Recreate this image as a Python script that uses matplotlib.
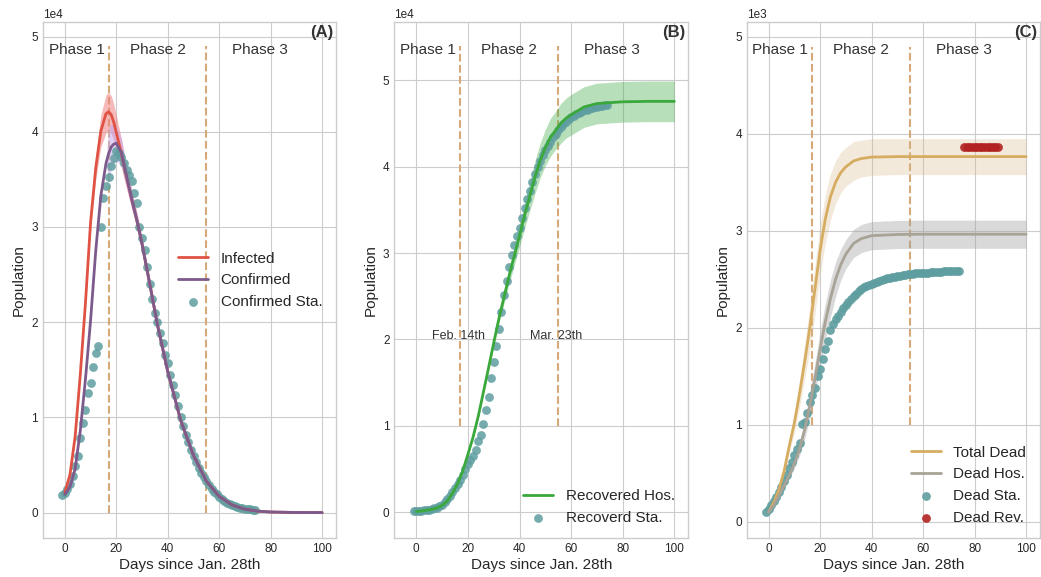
import matplotlib
matplotlib.use('Agg')
import matplotlib.pyplot as plt
import numpy as np

plt.style.use('seaborn-v0_8-whitegrid')
plt.rcParams['font.family'] = ['Liberation Sans', 'DejaVu Sans']

# ---- panel A: infected / confirmed (units of 1e4) ----
a_days = [0, 2, 4, 6, 8, 10, 12, 14, 16, 17, 18, 19, 20, 22, 24, 26, 28, 30,
          33, 36, 40, 45, 50, 55, 60, 65, 70, 75, 80, 90, 100]
a_infected = [0.21, 0.40, 0.80, 1.45, 2.20, 3.05, 3.62, 4.01, 4.19, 4.21, 4.18,
              4.10, 3.99, 3.77, 3.52, 3.29, 3.07, 2.82, 2.40, 1.97, 1.48, 0.97,
              0.60, 0.33, 0.17, 0.08, 0.035, 0.015, 0.006, 0.001, 0.0]
a_infected_err = [0.0, 0.01, 0.02, 0.03, 0.05, 0.07, 0.12, 0.17, 0.20, 0.20, 0.20,
                  0.19, 0.18, 0.15, 0.12, 0.10, 0.08, 0.07, 0.06, 0.05, 0.04, 0.03,
                  0.02, 0.015, 0.01, 0.005, 0.003, 0.0, 0.0, 0.0, 0.0]
a_confirmed = [0.19, 0.27, 0.46, 0.86, 1.40, 2.02, 2.75, 3.33, 3.67, 3.77, 3.84,
               3.87, 3.88, 3.78, 3.53, 3.29, 3.07, 2.82, 2.40, 1.97, 1.48, 0.97,
               0.60, 0.33, 0.17, 0.08, 0.035, 0.015, 0.006, 0.001, 0.0]
a_confirmed_err = [0.0, 0.0, 0.0, 0.0, 0.0, 0.0, 0.0, 0.0, 0.0, 0.28, 0.24,
                   0.20, 0.18, 0.15, 0.12, 0.10, 0.08, 0.07, 0.06, 0.05, 0.04, 0.03,
                   0.02, 0.015, 0.01, 0.005, 0.003, 0.0, 0.0, 0.0, 0.0]
# statistics, one value per day starting at day -1
a_conf_sta = [0.18, 0.21, 0.25, 0.30, 0.38, 0.49, 0.59, 0.78, 0.94, 1.08, 1.26,
              1.36, 1.53, 1.68, 1.75, 3.00, 3.30, 3.43, 3.53, 3.64, 3.72, 3.80,
              3.78, 3.74, 3.67, 3.60, 3.55, 3.48, 3.36, 3.25, 3.00, 2.88, 2.76,
              2.58, 2.40, 2.24, 2.10, 2.00, 1.89, 1.78, 1.66, 1.57, 1.45, 1.34,
              1.24, 1.12, 1.00, 0.91, 0.82, 0.74, 0.66, 0.59, 0.53, 0.47, 0.42,
              0.37, 0.33, 0.29, 0.25, 0.22, 0.19, 0.16, 0.14, 0.12, 0.10, 0.087,
              0.075, 0.065, 0.057, 0.05, 0.045, 0.04, 0.037, 0.034, 0.032, 0.03]

# ---- panel B: recovered (units of 1e4) ----
b_days = [0, 2, 4, 6, 8, 10, 12, 14, 16, 18, 20, 22, 24, 26, 28, 30, 32, 34, 36,
          38, 40, 42, 44, 46, 48, 50, 52, 54, 56, 58, 60, 65, 70, 80, 90, 100]
b_recovered = [0.01, 0.015, 0.025, 0.035, 0.05, 0.08, 0.13, 0.22, 0.33, 0.48,
               0.67, 0.87, 1.11, 1.39, 1.67, 1.96, 2.24, 2.49, 2.74, 2.97, 3.20,
               3.44, 3.66, 3.88, 4.07, 4.22, 4.34, 4.42, 4.50, 4.56, 4.60, 4.69,
               4.73, 4.75, 4.755, 4.755]
b_recovered_err = [0.005, 0.005, 0.005, 0.008, 0.01, 0.01, 0.012, 0.015, 0.018,
                   0.02, 0.022, 0.025, 0.028, 0.03, 0.035, 0.045, 0.055, 0.07,
                   0.09, 0.11, 0.13, 0.15, 0.17, 0.19, 0.20, 0.21, 0.22, 0.22,
                   0.23, 0.23, 0.235, 0.235, 0.235, 0.235, 0.235, 0.235]
b_rec_sta = [0.01, 0.012, 0.015, 0.018, 0.022, 0.026, 0.03, 0.035, 0.045, 0.055,
             0.07, 0.09, 0.12, 0.15, 0.19, 0.24, 0.28, 0.33, 0.38, 0.43, 0.50,
             0.56, 0.60, 0.65, 0.72, 0.82, 0.89, 1.02, 1.18, 1.33, 1.55, 1.74,
             1.92, 2.12, 2.32, 2.52, 2.68, 2.84, 2.98, 3.09, 3.20, 3.29, 3.40,
             3.52, 3.62, 3.72, 3.82, 3.92, 4.00, 4.07, 4.13, 4.19, 4.24, 4.29,
             4.34, 4.38, 4.42, 4.46, 4.49, 4.52, 4.55, 4.57, 4.59, 4.61, 4.62,
             4.63, 4.65, 4.66, 4.67, 4.68, 4.69, 4.69, 4.70, 4.70, 4.71, 4.71]

# ---- panel C: dead (units of 1e3) ----
c_days = [0, 2, 4, 6, 8, 10, 12, 14, 16, 17, 18, 20, 22, 24, 26, 28, 30, 33, 36,
          40, 50, 60, 100]
c_total = [0.10, 0.20, 0.33, 0.52, 0.78, 1.02, 1.32, 1.65, 2.00, 2.20, 2.40, 2.80,
           3.12, 3.35, 3.50, 3.60, 3.66, 3.72, 3.745, 3.76, 3.765, 3.765, 3.765]
c_total_err = [0.01, 0.02, 0.03, 0.05, 0.07, 0.10, 0.14, 0.18, 0.22, 0.24, 0.25,
               0.26, 0.25, 0.24, 0.22, 0.21, 0.20, 0.20, 0.19, 0.19, 0.185, 0.185,
               0.185]
c_hos = [0.10, 0.17, 0.27, 0.37, 0.48, 0.60, 0.75, 0.95, 1.20, 1.34, 1.48, 1.78,
         2.06, 2.30, 2.50, 2.65, 2.76, 2.87, 2.92, 2.95, 2.962, 2.965, 2.965]
c_hos_err = [0.01, 0.015, 0.02, 0.03, 0.04, 0.05, 0.07, 0.10, 0.13, 0.14, 0.16,
             0.18, 0.19, 0.19, 0.18, 0.16, 0.15, 0.145, 0.145, 0.145, 0.145,
             0.145, 0.145]
c_dead_sta = [0.10, 0.13, 0.17, 0.21, 0.26, 0.31, 0.36, 0.42, 0.48, 0.55, 0.62,
              0.69, 0.75, 0.81, 1.01, 1.03, 1.12, 1.23, 1.31, 1.38, 1.50, 1.58,
              1.68, 1.78, 1.86, 1.98, 2.04, 2.09, 2.12, 2.16, 2.20, 2.24, 2.27,
              2.30, 2.33, 2.35, 2.38, 2.40, 2.42, 2.43, 2.44, 2.45, 2.46, 2.47,
              2.48, 2.49, 2.50, 2.51, 2.515, 2.52, 2.525, 2.53, 2.535, 2.54,
              2.545, 2.55, 2.55, 2.555, 2.56, 2.56, 2.565, 2.565, 2.57, 2.57,
              2.575, 2.575, 2.58, 2.58, 2.58, 2.585, 2.585, 2.585, 2.59, 2.59,
              2.59, 2.59]
c_rev_days = [76, 77, 78, 79, 80, 81, 82, 83, 84, 85, 86, 87, 88, 89]
c_rev_value = 3.869

phase_x = [4.5, 36, 76]
phase_names = ['Phase 1', 'Phase 2', 'Phase 3']
split_days = [17, 55]

TEAL = 'cadetblue'
DASH = '#d6aa78'
DOT = 40


def sta_days(vals):
    # statistics start one day before Jan. 28th
    return np.arange(len(vals)) - 1


def decorate(ax, letter, ylim, vline_span, scale):
    ax.set_xlim(-8.5, 105.4)
    ax.set_ylim(ylim[0] * scale, ylim[1] * scale)
    ax.set_xticks([0, 20, 40, 60, 80, 100])
    ax.ticklabel_format(axis='y', style='sci', scilimits=(0, 0))
    ax.tick_params(labelsize=8.5)
    ax.yaxis.get_offset_text().set_fontsize(8.5)
    ax.set_xlabel('Days since Jan. 28th', fontsize=11, labelpad=2)
    ax.set_ylabel('Population', fontsize=11)
    for d in split_days:
        ax.plot([d, d], [vline_span[0] * scale, vline_span[1] * scale],
                ls='--', lw=1.5, color=DASH, zorder=1)
    for x, name in zip(phase_x, phase_names):
        ax.text(x, 0.947, name, transform=ax.get_xaxis_transform(),
                ha='center', va='center', fontsize=11, color='#333333')
    ax.text(0.99, 0.981, letter, transform=ax.transAxes, ha='right',
            va='center', fontsize=12, fontweight='bold', color='#333333')


fig = plt.figure(figsize=(10.41, 5.77), dpi=100)
ax_a = fig.add_axes([0.0413, 0.0671, 0.2815, 0.8943])
ax_b = fig.add_axes([0.3788, 0.0671, 0.2824, 0.8943])
ax_c = fig.add_axes([0.7173, 0.0671, 0.2818, 0.8943])

# panel A
s = 1e4
ad = np.array(a_days)
inf = np.array(a_infected) * s
inf_e = np.array(a_infected_err) * s
conf = np.array(a_confirmed) * s
conf_e = np.array(a_confirmed_err) * s
ax_a.fill_between(ad, inf - inf_e, inf + inf_e, color='#f08080', alpha=0.55,
                  lw=0, zorder=2)
ax_a.fill_between(ad, conf - conf_e, conf + conf_e, color='#c6a8ec', alpha=0.55,
                  lw=0, zorder=2)
ax_a.scatter(sta_days(a_conf_sta), np.array(a_conf_sta) * s, s=DOT, color=TEAL,
             alpha=0.85, lw=0, zorder=3, label='Confirmed Sta.')
ax_a.plot(ad, inf, color='#e05244', lw=2, zorder=4, label='Infected')
ax_a.plot(ad, conf, color='#7d5a8c', lw=2, zorder=4, label='Confirmed')
decorate(ax_a, '(A)', (-0.27, 5.15), (0, 4.9), s)
h, l = ax_a.get_legend_handles_labels()
ax_a.legend([h[1], h[2], h[0]], [l[1], l[2], l[0]], loc='center right',
            fontsize=11)

# panel B
bd = np.array(b_days)
rec = np.array(b_recovered) * s
rec_e = np.array(b_recovered_err) * s
ax_b.fill_between(bd, rec - rec_e, rec + rec_e, color='#4caf50', alpha=0.4,
                  lw=0, zorder=2)
ax_b.scatter(sta_days(b_rec_sta), np.array(b_rec_sta) * s, s=DOT, color=TEAL,
             alpha=0.85, lw=0, zorder=3, label='Recoverd Sta.')
ax_b.plot(bd, rec, color='#3aa83a', lw=2, zorder=4, label='Recovered Hos.')
decorate(ax_b, '(B)', (-0.3, 5.67), (1, 5.4), s)
ax_b.text(16.5, 2.0 * s, 'Feb. 14th', ha='center', va='baseline', fontsize=9,
          color='#333333')
ax_b.text(54.3, 2.0 * s, 'Mar. 23th', ha='center', va='baseline', fontsize=9,
          color='#333333')
h, l = ax_b.get_legend_handles_labels()
ax_b.legend([h[1], h[0]], [l[1], l[0]], loc='lower right', fontsize=11)

# panel C
s = 1e3
cd = np.array(c_days)
tot = np.array(c_total) * s
tot_e = np.array(c_total_err) * s
hos = np.array(c_hos) * s
hos_e = np.array(c_hos_err) * s
ax_c.fill_between(cd, tot - tot_e, tot + tot_e, color='#d9b98a', alpha=0.3,
                  lw=0, zorder=2)
ax_c.fill_between(cd, hos - hos_e, hos + hos_e, color='#a0a0a0', alpha=0.4,
                  lw=0, zorder=2)
ax_c.scatter(sta_days(c_dead_sta), np.array(c_dead_sta) * s, s=DOT, color=TEAL,
             alpha=0.9, lw=0, zorder=3, label='Dead Sta.')
ax_c.scatter(c_rev_days, [c_rev_value * s] * len(c_rev_days), s=DOT,
             color='#b22222', alpha=0.9, lw=0, zorder=3, label='Dead Rev.')
ax_c.plot(cd, tot, color='#d6ad60', lw=2, zorder=4, label='Total Dead')
ax_c.plot(cd, hos, color='#a8a396', lw=2, zorder=4, label='Dead Hos.')
decorate(ax_c, '(C)', (-0.17, 5.15), (1, 4.9), s)
h, l = ax_c.get_legend_handles_labels()
ax_c.legend([h[2], h[3], h[0], h[1]], [l[2], l[3], l[0], l[1]],
            loc='lower right', fontsize=11)

fig.savefig('out.png', dpi=100)
